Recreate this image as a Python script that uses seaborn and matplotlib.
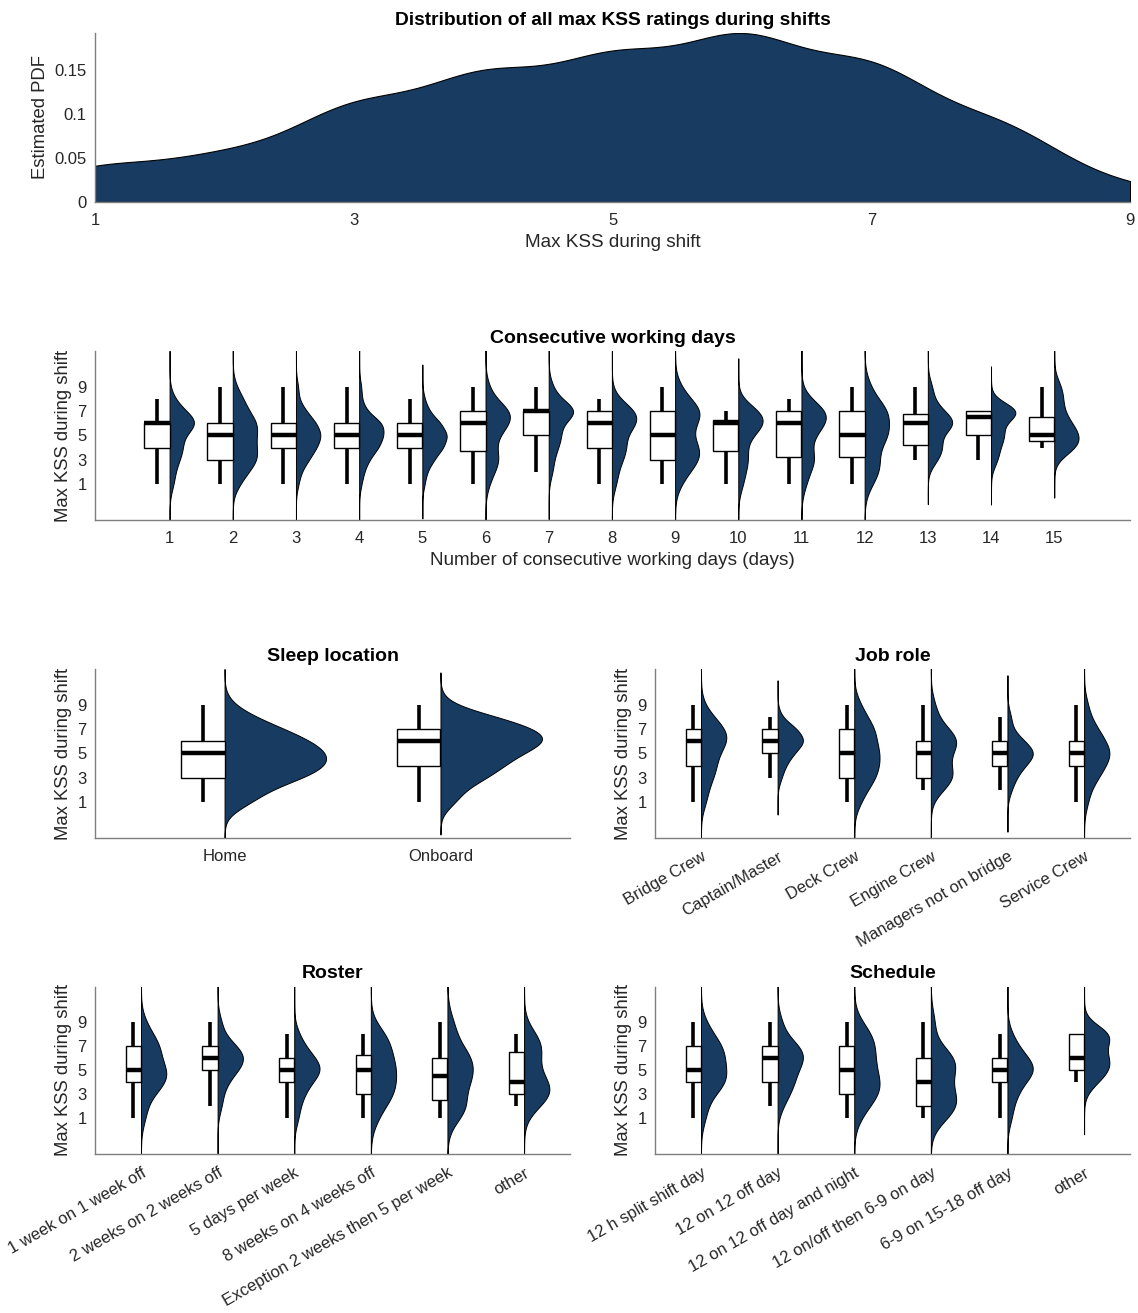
import numpy as np
import pandas as pd
import matplotlib
matplotlib.use("Agg")
import matplotlib.pyplot as plt
import seaborn as sns

sns.set_style("white")
plt.rcParams["font.family"] = ["Liberation Sans", "DejaVu Sans"]

NAVY = "#183b61"
AXIS_GREY = "#7f7f7f"
TEXT_GREY = "#262626"

KSS_LEVELS = np.arange(1, 10)

# Number of shifts at each max-KSS rating 1..9, per group
sleep_labels = ["Home", "Onboard"]
sleep_counts = [
    [12, 14, 30, 38, 38, 32, 22, 11, 3],
    [11, 14, 30, 40, 50, 70, 62, 37, 6],
]

day_labels = [str(d) for d in range(1, 16)]
day_counts = [
    [1, 1, 2, 3, 2, 7, 3, 1, 0],
    [2, 4, 7, 6, 6, 7, 4, 3, 1],
    [1, 2, 5, 8, 10, 8, 4, 1, 1],
    [1, 2, 4, 8, 10, 10, 3, 1, 1],
    [1, 2, 5, 9, 11, 8, 3, 1, 0],
    [1, 2, 4, 2, 3, 6, 7, 2, 1],
    [0, 1, 1, 2, 3, 2, 8, 2, 1],
    [1, 1, 2, 3, 2, 5, 5, 1, 0],
    [1, 2, 4, 4, 2, 3, 5, 2, 1],
    [1, 1, 2, 1, 2, 5, 4, 0, 0],
    [1, 1, 3, 1, 2, 4, 5, 1, 0],
    [1, 2, 2, 1, 4, 2, 4, 1, 1],
    [0, 0, 2, 3, 2, 6, 3, 1, 1],
    [0, 0, 1, 1, 2, 1, 5, 0, 0],
    [0, 0, 0, 3, 3, 2, 1, 1, 1],
]

job_labels = ["Bridge Crew", "Captain/Master", "Deck Crew", "Engine Crew",
              "Managers not on bridge", "Service Crew"]
job_counts = [
    [2, 2, 4, 5, 5, 9, 8, 4, 1],
    [0, 0, 1, 2, 4, 7, 5, 1, 0],
    [2, 3, 6, 6, 7, 5, 6, 3, 2],
    [0, 2, 5, 3, 3, 6, 3, 1, 1],
    [0, 1, 2, 4, 7, 4, 1, 1, 0],
    [1, 1, 3, 4, 6, 4, 3, 1, 1],
]

roster_labels = ["1 week on 1 week off", "2 weeks on 2 weeks off", "5 days per week",
                 "8 weeks on 4 weeks off", "Exception 2 weeks then 5 per week", "other"]
roster_counts = [
    [1, 1, 2, 5, 5, 3, 4, 2, 1],
    [0, 1, 1, 2, 4, 6, 4, 1, 1],
    [1, 1, 2, 3, 6, 4, 2, 1, 0],
    [1, 1, 3, 2, 3, 2, 2, 2, 0],
    [1, 4, 0, 4, 2, 4, 1, 1, 1],
    [0, 1, 3, 2, 1, 1, 2, 1, 0],
]

schedule_labels = ["12 h split shift day", "12 on 12 off day", "12 on 12 off day and night",
                   "12 on/off then 6-9 on day", "6-9 on 15-18 off day", "other"]
schedule_counts = [
    [1, 1, 2, 5, 4, 4, 4, 2, 1],
    [0, 1, 2, 3, 3, 5, 4, 1, 1],
    [1, 2, 4, 4, 3, 3, 3, 3, 1],
    [2, 4, 3, 2, 3, 4, 1, 0, 1],
    [1, 1, 2, 3, 6, 4, 2, 1, 0],
    [0, 0, 0, 1, 2, 2, 1, 3, 0],
]


def expand(counts):
    return np.repeat(KSS_LEVELS, counts)


def style_axes(ax):
    sns.despine(ax=ax)
    for side in ("left", "bottom"):
        ax.spines[side].set_color(AXIS_GREY)
        ax.spines[side].set_linewidth(1.0)
    ax.tick_params(direction="in", length=4, width=0.8, color=AXIS_GREY,
                   labelcolor=TEXT_GREY, labelsize=12)
    ax.tick_params(axis="x", pad=8)
    ax.tick_params(axis="y", pad=6)


def raincloud(ax, labels, counts, title, xlabel=None, vio_width=0.66, box_width=0.2,
              bw=0.9, cut=5, xlim=(0.4, 6.6), rotate=False):
    frames = []
    for i, c in enumerate(counts, start=1):
        frames.append(pd.DataFrame({"pos": float(i), "kss": expand(c)}))
    df = pd.concat(frames, ignore_index=True)

    n0 = len(ax.collections)
    sns.violinplot(data=df, x="pos", y="kss", native_scale=True, orient="x",
                   inner=None, density_norm="width", width=vio_width, cut=cut,
                   bw_adjust=bw, color=NAVY, saturation=1, linecolor="black",
                   linewidth=0.7, ax=ax)
    # fold each violin onto its right-hand side
    for coll in ax.collections[n0:]:
        new_verts = []
        for p in coll.get_paths():
            v = np.array(p.vertices, dtype=float)
            centre = 0.5 * (v[:, 0].min() + v[:, 0].max())
            v[:, 0] = np.maximum(v[:, 0], centre)
            new_verts.append(v)
        coll.set_verts(new_verts)

    # box sits just left of the violin's flat edge
    df["box_pos"] = df["pos"] - box_width / 2
    sns.boxplot(data=df, x="box_pos", y="kss", native_scale=True, orient="x",
                width=box_width, whis=(0, 100), color="white", saturation=1,
                linecolor="black", linewidth=1.0, showfliers=False, showcaps=False,
                whiskerprops=dict(linewidth=2.6), medianprops=dict(linewidth=3.2),
                ax=ax)

    ax.set_xlim(*xlim)
    ax.set_ylim(-2, 12)
    ax.set_yticks([1, 3, 5, 7, 9])
    ax.set_xticks(np.arange(1, len(labels) + 1))
    if rotate:
        ax.set_xticklabels(labels, rotation=30, ha="right", rotation_mode="anchor")
    else:
        ax.set_xticklabels(labels)
    ax.set_ylabel("Max KSS during shift", fontsize=13.3, color=TEXT_GREY)
    ax.set_xlabel(xlabel if xlabel else "", fontsize=13.6, color=TEXT_GREY)
    ax.set_title(title, fontsize=14, fontweight="bold", color="black", pad=6)
    style_axes(ax)


fig = plt.figure(figsize=(11.38, 13.13), dpi=100)

# overall distribution
ax0 = fig.add_axes([0.0835, 0.8462, 0.9095, 0.1287])
all_ratings = np.concatenate([expand(c) for c in sleep_counts])
sns.kdeplot(x=all_ratings, fill=True, color=NAVY, alpha=1, edgecolor="black",
            linewidth=0.8, clip=(1, 9), bw_adjust=0.9, ax=ax0)
top = max(p.vertices[:, 1].max() for p in ax0.collections[0].get_paths())
ax0.set_xlim(1, 9)
ax0.set_ylim(0, top)
ax0.set_xticks([1, 3, 5, 7, 9])
ax0.set_yticks([0, 0.05, 0.1, 0.15])
ax0.set_yticklabels(["0", "0.05", "0.1", "0.15"])
ax0.set_xlabel("Max KSS during shift", fontsize=13.6, color=TEXT_GREY)
ax0.set_ylabel("Estimated PDF", fontsize=13.3, color=TEXT_GREY)
ax0.set_title("Distribution of all max KSS ratings during shifts", fontsize=13.8,
              fontweight="bold", color="black", pad=6)
style_axes(ax0)

ax1 = fig.add_axes([0.0835, 0.6040, 0.9095, 0.1287])
raincloud(ax1, day_labels, day_counts, "Consecutive working days",
          xlabel="Number of consecutive working days (days)", vio_width=0.77,
          box_width=0.4, bw=0.8, cut=5, xlim=(-0.18, 16.2))

ax2 = fig.add_axes([0.0835, 0.3618, 0.4174, 0.1287])
raincloud(ax2, sleep_labels, sleep_counts, "Sleep location", vio_width=0.94,
          box_width=0.2, bw=1.3, cut=3.5, xlim=(0.4, 2.6))

ax3 = fig.add_axes([0.5756, 0.3618, 0.4174, 0.1287])
raincloud(ax3, job_labels, job_counts, "Job role", rotate=True)

ax4 = fig.add_axes([0.0835, 0.1211, 0.4174, 0.1275])
raincloud(ax4, roster_labels, roster_counts, "Roster", rotate=True)

ax5 = fig.add_axes([0.5756, 0.1211, 0.4174, 0.1275])
raincloud(ax5, schedule_labels, schedule_counts, "Schedule", rotate=True)

fig.savefig("out.png", dpi=100, facecolor="white")
